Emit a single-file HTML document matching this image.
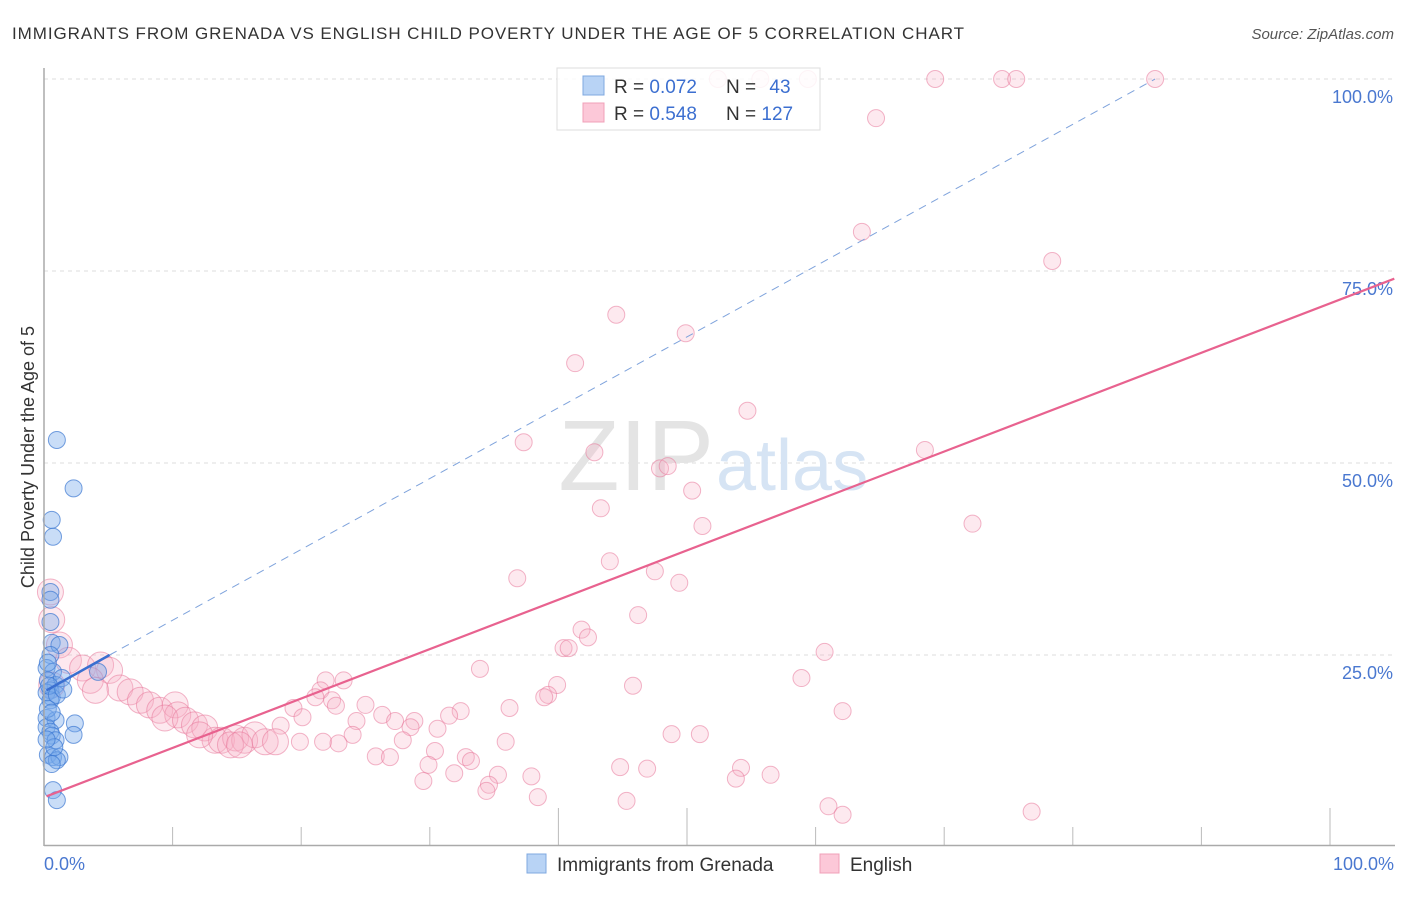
<!DOCTYPE html>
<html><head><meta charset="utf-8">
<style>
body{margin:0;background:#fff;font-family:"Liberation Sans",sans-serif;}
svg text{font-family:"Liberation Sans",sans-serif;}
</style></head>
<body>
<svg width="1406" height="892" viewBox="0 0 1406 892" xmlns="http://www.w3.org/2000/svg">
<text x="12" y="39" font-size="17" fill="#333" textLength="952" lengthAdjust="spacing">IMMIGRANTS FROM GRENADA VS ENGLISH CHILD POVERTY UNDER THE AGE OF 5 CORRELATION CHART</text>
<text x="1394" y="39" font-size="15" fill="#555" font-style="italic" text-anchor="end">Source: ZipAtlas.com</text>
<g id="grid"></g>
<text x="714" y="490" font-size="100" fill="#e4e4e4" text-anchor="end" font-family="Liberation Serif">ZIP</text>
<text x="716" y="490" font-size="72" fill="#d6e4f4">atlas</text>
<g id="pts"></g>
<g id="lines"></g>
<line x1="44" y1="68" x2="44" y2="846" stroke="#aaa" stroke-width="1.5"/>
<line x1="44" y1="845.5" x2="1395" y2="845.5" stroke="#aaa" stroke-width="1.5"/>
<text transform="translate(34,457) rotate(-90)" font-size="18" fill="#333" text-anchor="middle">Child Poverty Under the Age of 5</text>
<text x="44" y="870" font-size="18" fill="#4a78d0">0.0%</text>
<text x="1394" y="870" font-size="18" fill="#4a78d0" text-anchor="end">100.0%</text>
<g>
<rect x="557" y="68" width="263" height="62" fill="#fff" fill-opacity="0.85" stroke="#ddd"/>
<rect x="583" y="76" width="21" height="19" fill="#b8d3f5" stroke="#7fa8e0"/>
<rect x="583" y="103" width="21" height="19" fill="#fcc8d8" stroke="#f0a0b8"/>
<text x="614" y="93" font-size="19" fill="#333">R = <tspan fill="#3c6fd0">0.072</tspan></text>
<text x="726" y="93" font-size="19" fill="#333">N = <tspan fill="#3c6fd0" dx="8">43</tspan></text>
<text x="614" y="120" font-size="19" fill="#333">R = <tspan fill="#3c6fd0">0.548</tspan></text>
<text x="726" y="120" font-size="19" fill="#333">N = <tspan fill="#3c6fd0">127</tspan></text>
</g>
<g>
<rect x="527" y="854" width="19" height="19" fill="#b8d3f5" stroke="#7fa8e0"/>
<text x="557" y="871" font-size="19" fill="#333">Immigrants from Grenada</text>
</g>
<g>
<rect x="820" y="854" width="19" height="19" fill="#fcc8d8" stroke="#f0a0b8"/>
<text x="850" y="871" font-size="19" fill="#333">English</text>
</g>
</svg>
<script>
const yTicks=[25,50,75,100];
const yTickLabels=["25.0%","50.0%","75.0%","100.0%"];
const xTicks=[10,20,30,40,50,60,70,80,90,100];
const blueX=[1.0,2.3,0.6,0.7,0.5,0.5,0.5,0.6,1.2,0.5,0.2,0.7,0.3,0.9,0.5,0.2,0.6,0.5,0.2,0.9,2.4,2.3,0.2,0.5,0.6,0.9,0.3,0.7,1.2,1.0,0.7,1.0,4.2,0.3,1.4,0.3,0.6,0.8,0.4,1.0,0.2,1.5,0.6];
const blueY=[53.0,46.7,42.6,40.4,33.2,32.2,29.3,26.6,26.3,25.0,23.3,22.8,21.7,21.1,20.4,20.1,19.5,19.1,16.8,16.5,16.1,14.6,15.6,15.0,14.5,13.9,12.0,11.7,11.7,11.3,7.4,6.1,22.8,24.0,22.0,18.0,17.5,13.0,21.0,19.8,14.0,20.5,10.8];
const pinkX=[52.4,55.7,59.4,69.3,74.5,75.6,86.4,64.7,63.6,78.4,44.5,49.9,41.3,54.7,37.3,42.8,68.5,47.9,48.5,50.4,43.3,51.2,72.2,36.8,44.0,47.5,49.4,46.2,41.8,42.3,40.4,40.8,60.7,33.9,21.9,23.3,45.8,58.9,39.9,21.5,39.2,38.9,21.1,22.4,19.4,36.2,32.4,62.1,25.0,22.7,20.1,24.3,26.3,27.3,28.8,31.5,18.4,28.5,30.6,24.0,21.7,22.9,19.9,35.9,27.9,48.8,51.0,30.4,25.8,26.9,32.8,33.2,29.9,44.8,46.9,54.2,56.5,35.3,37.9,31.9,53.8,29.5,34.6,34.4,38.4,45.3,61.0,76.8,62.1,
0.5,0.6,1.2,1.9,3.0,4.4,5.1,3.6,5.9,4.0,6.7,7.5,8.2,9.0,10.2,10.4,9.4,11.0,11.7,12.5,13.3,13.8,14.9,15.6,16.4,17.2,18.0,12.1,14.5,15.2,0.6];
const pinkY=[100,100,100,100,100,100,100,94.9,80.1,76.3,69.3,66.9,63.0,56.8,52.7,51.4,51.7,49.3,49.6,46.4,44.1,41.8,42.1,35.0,37.2,35.9,34.4,30.2,28.3,27.3,25.9,25.9,25.4,23.2,21.7,21.7,21.0,22.0,21.1,20.4,19.8,19.5,19.5,19.1,18.1,18.1,17.7,17.7,18.5,18.4,16.9,16.4,17.2,16.4,16.4,17.1,15.8,15.6,15.4,14.6,13.7,13.5,13.7,13.7,13.9,14.7,14.7,12.5,11.8,11.7,11.7,11.2,10.7,10.4,10.2,10.3,9.4,9.4,9.2,9.6,8.9,8.6,8.1,7.3,6.5,6.0,5.3,4.6,4.2,
33.2,29.6,26.3,24.3,23.3,23.7,23.0,21.7,20.7,20.4,20.2,19.1,18.5,17.8,18.5,17.2,16.8,16.5,15.9,15.5,13.9,13.9,14.2,13.9,14.6,13.7,13.7,14.6,13.3,13.3,21.1];
const pinkSize=pinkX.map((v,i)=>i>=89?1:0);
const blueTrend=[[0.2,20.4],[5.1,25.0]];
const blueDash=[[5.1,25.0],[86.4,100]];
const pinkTrend=[[0.2,6.6],[105,74.0]];
const X=v=>44+v*12.86, Y=v=>847-v*7.68;
const NS="http://www.w3.org/2000/svg";
const grid=document.getElementById('grid');
yTicks.forEach((t,i)=>{
  const l=document.createElementNS(NS,'line');
  l.setAttribute('x1',44);l.setAttribute('x2',1395);l.setAttribute('y1',Y(t));l.setAttribute('y2',Y(t));
  l.setAttribute('stroke','#ddd');l.setAttribute('stroke-dasharray','4,4');
  
  
  grid.appendChild(l);
  const tx=document.createElementNS(NS,'text');
  tx.setAttribute('x',1393);tx.setAttribute('y',Y(t)+24);tx.setAttribute('font-size','18');
  tx.setAttribute('fill','#4a78d0');tx.setAttribute('text-anchor','end');tx.textContent=yTickLabels[i];
  
  
  grid.appendChild(tx);
});
xTicks.forEach((t,i)=>{
  const l=document.createElementNS(NS,'line');
  const tall=(t===40||t===50||t===100);
  l.setAttribute('x1',X(t));l.setAttribute('x2',X(t));l.setAttribute('y1',tall?808:827);l.setAttribute('y2',846);
  l.setAttribute('stroke','#bbb');
  
  
  grid.appendChild(l);
});
const pts=document.getElementById('pts');
pinkX.forEach((v,i)=>{
  const c=document.createElementNS(NS,'circle');
  c.setAttribute('cx',X(v));c.setAttribute('cy',Y(pinkY[i]));c.setAttribute('r',pinkSize[i]?13:8.5);
  c.setAttribute('fill','rgba(248,175,198,0.28)');c.setAttribute('stroke','rgba(232,120,155,0.55)');
  
  
  pts.appendChild(c);
});
blueX.forEach((v,i)=>{
  const c=document.createElementNS(NS,'circle');
  c.setAttribute('cx',X(v));c.setAttribute('cy',Y(blueY[i]));c.setAttribute('r',8.5);
  c.setAttribute('fill','rgba(120,170,235,0.4)');c.setAttribute('stroke','rgba(60,120,210,0.7)');
  
  
  pts.appendChild(c);
});
const lines=document.getElementById('lines');
function ln(p,col,w,dash,name){
  const l=document.createElementNS(NS,'line');
  l.setAttribute('x1',X(p[0][0]));l.setAttribute('y1',Y(p[0][1]));
  l.setAttribute('x2',X(p[1][0]));l.setAttribute('y2',Y(p[1][1]));
  l.setAttribute('stroke',col);l.setAttribute('stroke-width',w);
  if(dash)l.setAttribute('stroke-dasharray',dash);
  
  
  lines.appendChild(l);
}
ln(pinkTrend,'#e8628f',2.2,null,'english-trend-line');
ln(blueDash,'#7fa3dc',1,'8,6','grenada-trend-extension');
ln(blueTrend,'#3a6fd0',2.5,null,'grenada-trend-line');
</script>
</body></html>
